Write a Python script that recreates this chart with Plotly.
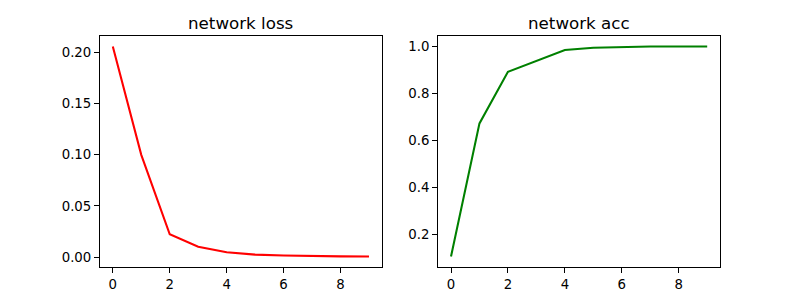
import plotly.graph_objects as go

epochs = list(range(10))
loss = [0.206, 0.100, 0.0222, 0.0101, 0.0046, 0.0023, 0.0014, 0.0008, 0.0006, 0.0005]
acc = [0.104, 0.672, 0.892, 0.940, 0.985, 0.995, 0.999, 1.0, 1.0, 1.0]

x_ticks = [0, 2, 4, 6, 8]
loss_ticks = [0.00, 0.05, 0.10, 0.15, 0.20]
acc_ticks = [0.2, 0.4, 0.6, 0.8, 1.0]

W, H = 800, 300
font = dict(family="DejaVu Sans", size=13.3, color="black")

fig = go.Figure()
fig.add_trace(go.Scatter(x=epochs, y=loss, mode="lines",
                         line=dict(color="red", width=2.08),
                         xaxis="x", yaxis="y", showlegend=False))
fig.add_trace(go.Scatter(x=epochs, y=acc, mode="lines",
                         line=dict(color="green", width=2.08),
                         xaxis="x2", yaxis="y2", showlegend=False))

def pad(vals):
    lo, hi = min(vals), max(vals)
    m = (hi - lo) * 0.05
    return [lo - m, hi + m]

axis_common = dict(showline=True, mirror=True, linecolor="black", linewidth=1.1,
                   ticks="outside", ticklen=5, tickwidth=1.1, tickcolor="black",
                   showgrid=False, zeroline=False, tickfont=font)

ax_l = (100 / W, 381.8 / W)
ax_r = (438.2 / W, 720 / W)
ydom = (1 - 267 / H, 1 - 36 / H)

fig.update_layout(
    width=W, height=H,
    margin=dict(l=0, r=0, t=0, b=0),
    paper_bgcolor="white", plot_bgcolor="white",
    xaxis=dict(domain=list(ax_l), range=pad(epochs), tickvals=x_ticks,
               ticktext=[str(v) for v in x_ticks], anchor="y", **axis_common),
    yaxis=dict(domain=list(ydom), range=pad(loss), tickvals=loss_ticks,
               ticktext=[f"{v:.2f}" for v in loss_ticks], anchor="x", **axis_common),
    xaxis2=dict(domain=list(ax_r), range=pad(epochs), tickvals=x_ticks,
                ticktext=[str(v) for v in x_ticks], anchor="y2", **axis_common),
    yaxis2=dict(domain=list(ydom), range=pad(acc), tickvals=acc_ticks,
                ticktext=[f"{v:.1f}" for v in acc_ticks], anchor="x2", **axis_common),
    annotations=[
        dict(text="network loss", x=(ax_l[0] + ax_l[1]) / 2, y=1 - 36 / H, xref="paper",
             yref="paper", xanchor="center", yanchor="bottom", yshift=1, showarrow=False,
             font=dict(family="DejaVu Sans", size=16.7, color="black")),
        dict(text="network acc", x=(ax_r[0] + ax_r[1]) / 2, y=1 - 36 / H, xref="paper",
             yref="paper", xanchor="center", yanchor="bottom", yshift=1, showarrow=False,
             font=dict(family="DejaVu Sans", size=16.7, color="black")),
    ],
)

fig.write_html("out.html")
